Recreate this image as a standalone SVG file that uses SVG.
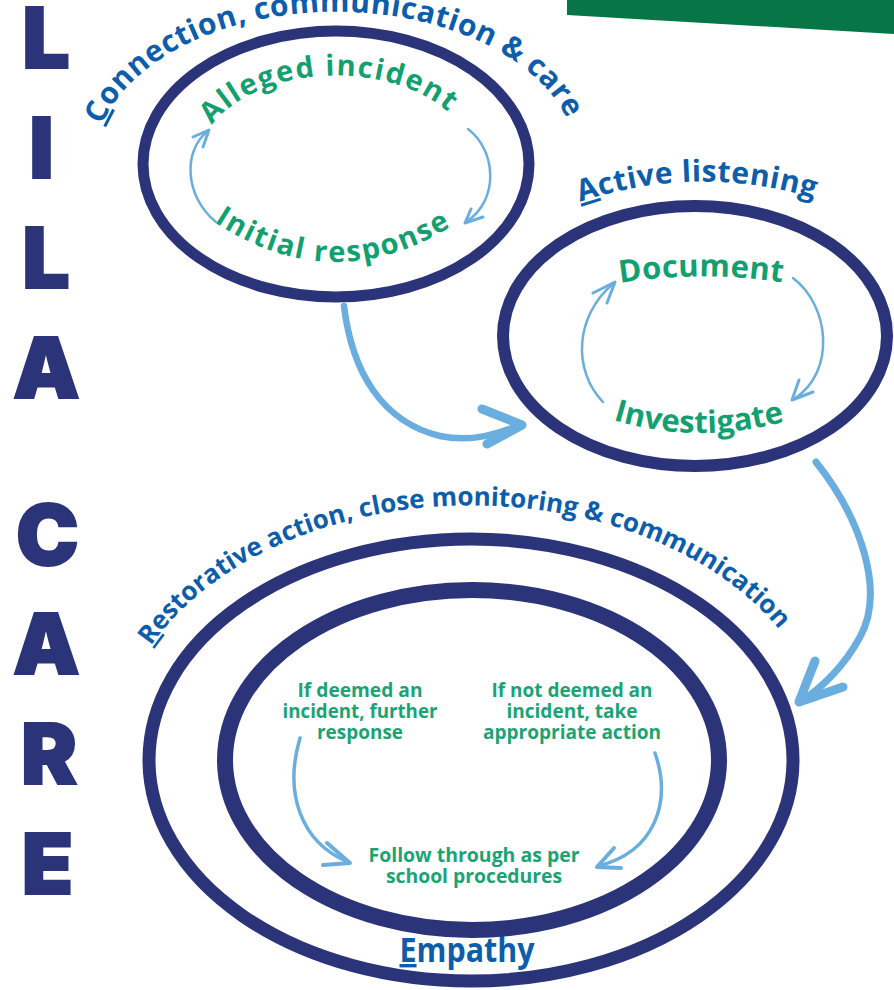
<svg xmlns="http://www.w3.org/2000/svg" width="894" height="990" viewBox="0 0 894 990">
<style>
.ring{fill:none;stroke:#2c3479}
.big{font-family:Inter,"Liberation Sans",Arial,sans-serif;font-weight:900;font-size:84px;fill:#2c3479;stroke:#2c3479;stroke-width:2;stroke-linejoin:miter;text-anchor:middle}
.lbl{font-family:"Open Sans","Liberation Sans",sans-serif;font-weight:700;fill:#0c5dab}
.grn{font-family:"Open Sans","Liberation Sans",sans-serif;font-weight:700;fill:#12a070}
.sm{font-family:"Open Sans","Liberation Sans",sans-serif;font-weight:700;font-size:19px;fill:#1aa374;text-anchor:middle}
.arr{fill:none;stroke:#6aaedf;stroke-linecap:round;stroke-linejoin:round}
.u{text-decoration:underline}
</style>
<defs>
<path id="pConn" d="M 102,125 A 242 152 0 0 1 570,125"/>
<path id="pAll" d="M 212,125 A 137 86 0 0 1 456,120"/>
<path id="pIni" d="M 214,222 Q 336,302 458,222"/>
<path id="pAct" d="M 580,202 Q 700,162 820,200"/>
<path id="pDoc" d="M 620,283 Q 703,270 787,283"/>
<path id="pInv" d="M 613,420 Q 700,446 790,420"/>
<path id="pRes" d="M 151,646 A 355 247 0 0 1 793,648"/>
</defs>

<polygon id="bar" points="567,0 894,0 894,34 567,15" fill="#077545"/>

<g id="lila-care">
<text class="big" x="46" y="68">L</text>
<text class="big" x="41.5" y="178">I</text>
<text class="big" x="46" y="288">L</text>
<text class="big" x="46.5" y="398">A</text>
<text class="big" x="47.5" y="565">C</text>
<text class="big" x="46.5" y="674">A</text>
<text class="big" x="49" y="784">R</text>
<text class="big" x="47.5" y="894">E</text>
</g>

<g id="node-connection">
<ellipse class="ring" cx="336" cy="164" rx="193" ry="133" stroke-width="11"/>
<text class="lbl" font-size="30"><textPath href="#pConn" textLength="540" lengthAdjust="spacing"><tspan class="u">C</tspan>onnection, communication &amp; care</textPath></text>
<text class="grn" font-size="29"><textPath href="#pAll" textLength="258" lengthAdjust="spacing">Alleged  incident</textPath></text>
<text class="grn" font-size="29"><textPath href="#pIni" textLength="252" lengthAdjust="spacing">Initial response</textPath></text>
</g>

<g id="node-active">
<ellipse class="ring" cx="695" cy="336" rx="192" ry="130" stroke-width="12"/>
<text class="lbl" font-size="30"><textPath href="#pAct" textLength="238" lengthAdjust="spacing"><tspan class="u">A</tspan>ctive listening</textPath></text>
<text class="grn" font-size="31"><textPath href="#pDoc" textLength="163" lengthAdjust="spacing">Document</textPath></text>
<text class="grn" font-size="31"><textPath href="#pInv" textLength="174" lengthAdjust="spacing">Investigate</textPath></text>
</g>

<g id="node-restorative">
<ellipse class="ring" cx="471" cy="760" rx="322" ry="221" stroke-width="13"/>
<text class="lbl" font-size="26"><textPath href="#pRes" textLength="705" lengthAdjust="spacing"><tspan class="u">R</tspan>estorative action, close monitoring &amp; communication</textPath></text>
<text class="lbl" font-size="34" x="467" y="962" text-anchor="middle" textLength="135" lengthAdjust="spacingAndGlyphs"><tspan class="u">E</tspan>mpathy</text>
</g>

<g id="node-empathy-inner">
<ellipse class="ring" cx="472" cy="760" rx="247" ry="170" stroke-width="16"/>
<text class="sm" x="360" y="697" textLength="125" lengthAdjust="spacingAndGlyphs">If deemed an</text>
<text class="sm" x="360" y="718" textLength="155" lengthAdjust="spacingAndGlyphs">incident, further</text>
<text class="sm" x="360" y="739" textLength="86" lengthAdjust="spacingAndGlyphs">response</text>
<text class="sm" x="572" y="697" textLength="161" lengthAdjust="spacingAndGlyphs">If not deemed an</text>
<text class="sm" x="572" y="718" textLength="131" lengthAdjust="spacingAndGlyphs">incident, take</text>
<text class="sm" x="572" y="739" textLength="178" lengthAdjust="spacingAndGlyphs">appropriate action</text>
<text class="sm" x="474" y="862" textLength="211" lengthAdjust="spacingAndGlyphs">Follow through as per</text>
<text class="sm" x="474" y="883" textLength="176" lengthAdjust="spacingAndGlyphs">school procedures</text>
</g>

<g id="connectors">
<path class="arr" stroke-width="6.5" d="M 344,306 C 352,372 382,422 440,436 C 472,443 500,433 520,425"/>
<polyline class="arr" stroke-width="9" points="482,409 522,425 487,444"/>
<path class="arr" stroke-width="7" d="M 816,462 C 862,520 885,592 860,637 C 845,665 822,688 800,702"/>
<polyline class="arr" stroke-width="9" points="815,661 799,702 843,687"/>
<path class="arr" stroke-width="2.5" d="M 216,222 C 184,196 183,150 208,131"/>
<polyline class="arr" stroke-width="3" points="193,137 209,130 203,147"/>
<path class="arr" stroke-width="2.5" d="M 468,129 C 496,150 500,200 466,222"/>
<polyline class="arr" stroke-width="3" points="471,209 465,223 483,217"/>
<path class="arr" stroke-width="2.5" d="M 603,402 C 572,370 575,315 614,283"/>
<polyline class="arr" stroke-width="3" points="593,293 615,282 607,303"/>
<path class="arr" stroke-width="2.5" d="M 793,278 C 830,306 836,372 794,399"/>
<polyline class="arr" stroke-width="3" points="799,380 792,400 813,392"/>
<path class="arr" stroke-width="3.5" d="M 300,738 C 284,792 300,842 348,862"/>
<polyline class="arr" stroke-width="4" points="327,843 350,863 323,865"/>
<path class="arr" stroke-width="3.5" d="M 655,753 C 672,802 655,852 598,866"/>
<polyline class="arr" stroke-width="4" points="614,848 597,867 621,868"/>
</g>
</svg>
